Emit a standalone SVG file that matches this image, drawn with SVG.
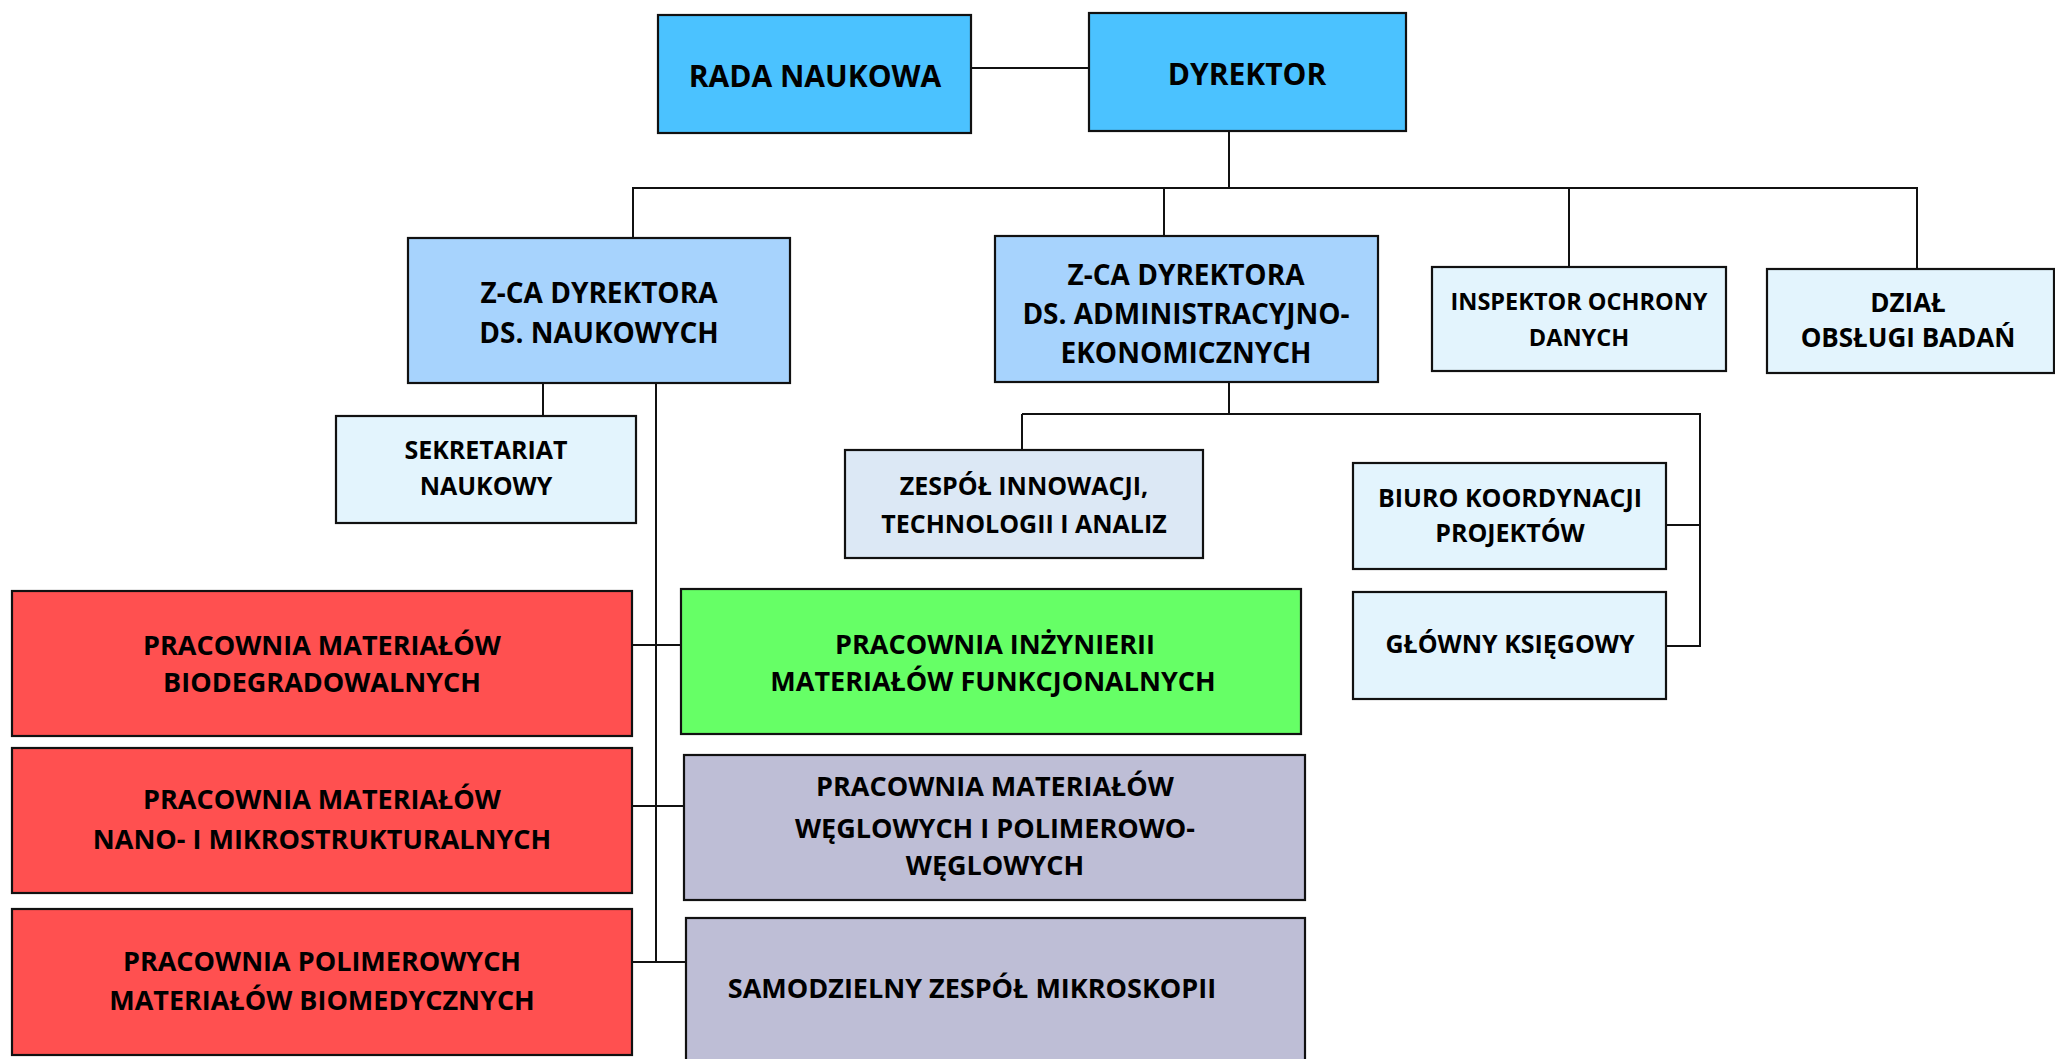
<svg xmlns="http://www.w3.org/2000/svg" width="2055" height="1059" viewBox="0 0 2055 1059">
<style>
.box{stroke:#111;stroke-width:2.2}
.top{fill:#4BC2FF}
.dep{fill:#A7D3FD}
.lt{fill:#E3F4FD}
.lt2{fill:#DCE8F5}
.red{fill:#FF5050}
.grn{fill:#66FF66}
.lav{fill:#BEBED6}
text{font-family:"Open Sans","Liberation Sans",sans-serif;font-weight:bold;fill:#000;text-anchor:middle}
.t30{font-size:30px}
.t28{font-size:28px}
.t27{font-size:27px}
.t26{font-size:26px}
.t25{font-size:25px}
.t23{font-size:23.5px}
#connectors line{stroke:#111;stroke-width:2}
</style>
<rect width="2055" height="1059" fill="#fff"/>
<g id="connectors">
<line x1="971" y1="68" x2="1089" y2="68"/>
<line x1="1229" y1="131" x2="1229" y2="188"/>
<line x1="632" y1="188" x2="1918" y2="188"/>
<line x1="633" y1="188" x2="633" y2="238"/>
<line x1="1164" y1="188" x2="1164" y2="236"/>
<line x1="1569" y1="188" x2="1569" y2="267"/>
<line x1="1917" y1="188" x2="1917" y2="269"/>
<line x1="543" y1="383" x2="543" y2="416"/>
<line x1="656" y1="383" x2="656" y2="963"/>
<line x1="1229" y1="382" x2="1229" y2="414"/>
<line x1="1022" y1="414" x2="1701" y2="414"/>
<line x1="1022" y1="414" x2="1022" y2="450"/>
<line x1="1700" y1="414" x2="1700" y2="647"/>
<line x1="1666" y1="525" x2="1700" y2="525"/>
<line x1="1666" y1="646" x2="1700" y2="646"/>
<line x1="632" y1="645" x2="681" y2="645"/>
<line x1="632" y1="806" x2="684" y2="806"/>
<line x1="632" y1="962" x2="686" y2="962"/>
</g>
<g id="rada"><rect class="box top" x="658" y="15" width="313" height="118"/><text class="t30" x="815" y="87">RADA NAUKOWA</text></g>
<g id="dyrektor"><rect class="box top" x="1089" y="13" width="317" height="118"/><text class="t30" x="1247" y="85">DYREKTOR</text></g>
<g id="zca-naukowych"><rect class="box dep" x="408" y="238" width="382" height="145"/><text class="t28" x="599" y="303">Z-CA DYREKTORA</text><text class="t28" x="599" y="343">DS. NAUKOWYCH</text></g>
<g id="zca-admin"><rect class="box dep" x="995" y="236" width="383" height="146"/><text class="t28" x="1186" y="285">Z-CA DYREKTORA</text><text class="t28" x="1186" y="324">DS. ADMINISTRACYJNO-</text><text class="t28" x="1186" y="363">EKONOMICZNYCH</text></g>
<g id="inspektor"><rect class="box lt" x="1432" y="267" width="294" height="104"/><text class="t23" x="1579" y="310">INSPEKTOR OCHRONY</text><text class="t23" x="1579" y="346">DANYCH</text></g>
<g id="dzial"><rect class="box lt" x="1767" y="269" width="287" height="104"/><text class="t26" x="1908" y="312">DZIAŁ</text><text class="t26" x="1908" y="347">OBSŁUGI BADAŃ</text></g>
<g id="sekretariat"><rect class="box lt" x="336" y="416" width="300" height="107"/><text class="t25" x="486" y="459">SEKRETARIAT</text><text class="t25" x="486" y="495">NAUKOWY</text></g>
<g id="zespol-innowacji"><rect class="box lt2" x="845" y="450" width="358" height="108"/><text class="t25" x="1024" y="495">ZESPÓŁ INNOWACJI,</text><text class="t25" x="1024" y="533">TECHNOLOGII I ANALIZ</text></g>
<g id="biuro"><rect class="box lt" x="1353" y="463" width="313" height="106"/><text class="t25" x="1510" y="507">BIURO KOORDYNACJI</text><text class="t25" x="1510" y="542">PROJEKTÓW</text></g>
<g id="ksiegowy"><rect class="box lt" x="1353" y="592" width="313" height="107"/><text class="t25" x="1510" y="653">GŁÓWNY KSIĘGOWY</text></g>
<g id="biodegradowalne"><rect class="box red" x="12" y="591" width="620" height="145"/><text class="t27" x="322" y="655">PRACOWNIA MATERIAŁÓW</text><text class="t27" x="322" y="692">BIODEGRADOWALNYCH</text></g>
<g id="inzynieria"><rect class="box grn" x="681" y="589" width="620" height="145"/><text class="t27" x="995" y="654">PRACOWNIA INŻYNIERII</text><text class="t27" x="993" y="691">MATERIAŁÓW FUNKCJONALNYCH</text></g>
<g id="nano"><rect class="box red" x="12" y="748" width="620" height="145"/><text class="t27" x="322" y="809">PRACOWNIA MATERIAŁÓW</text><text class="t27" x="322" y="849">NANO- I MIKROSTRUKTURALNYCH</text></g>
<g id="weglowe"><rect class="box lav" x="684" y="755" width="621" height="145"/><text class="t27" x="995" y="796">PRACOWNIA MATERIAŁÓW</text><text class="t27" x="995" y="838">WĘGLOWYCH I POLIMEROWO-</text><text class="t27" x="995" y="875">WĘGLOWYCH</text></g>
<g id="polimerowe"><rect class="box red" x="12" y="909" width="620" height="146"/><text class="t27" x="322" y="971">PRACOWNIA POLIMEROWYCH</text><text class="t27" x="322" y="1010">MATERIAŁÓW BIOMEDYCZNYCH</text></g>
<g id="mikroskopia"><rect class="box lav" x="686" y="918" width="619" height="160"/><text class="t27" x="972" y="998">SAMODZIELNY ZESPÓŁ MIKROSKOPII</text></g>
</svg>
